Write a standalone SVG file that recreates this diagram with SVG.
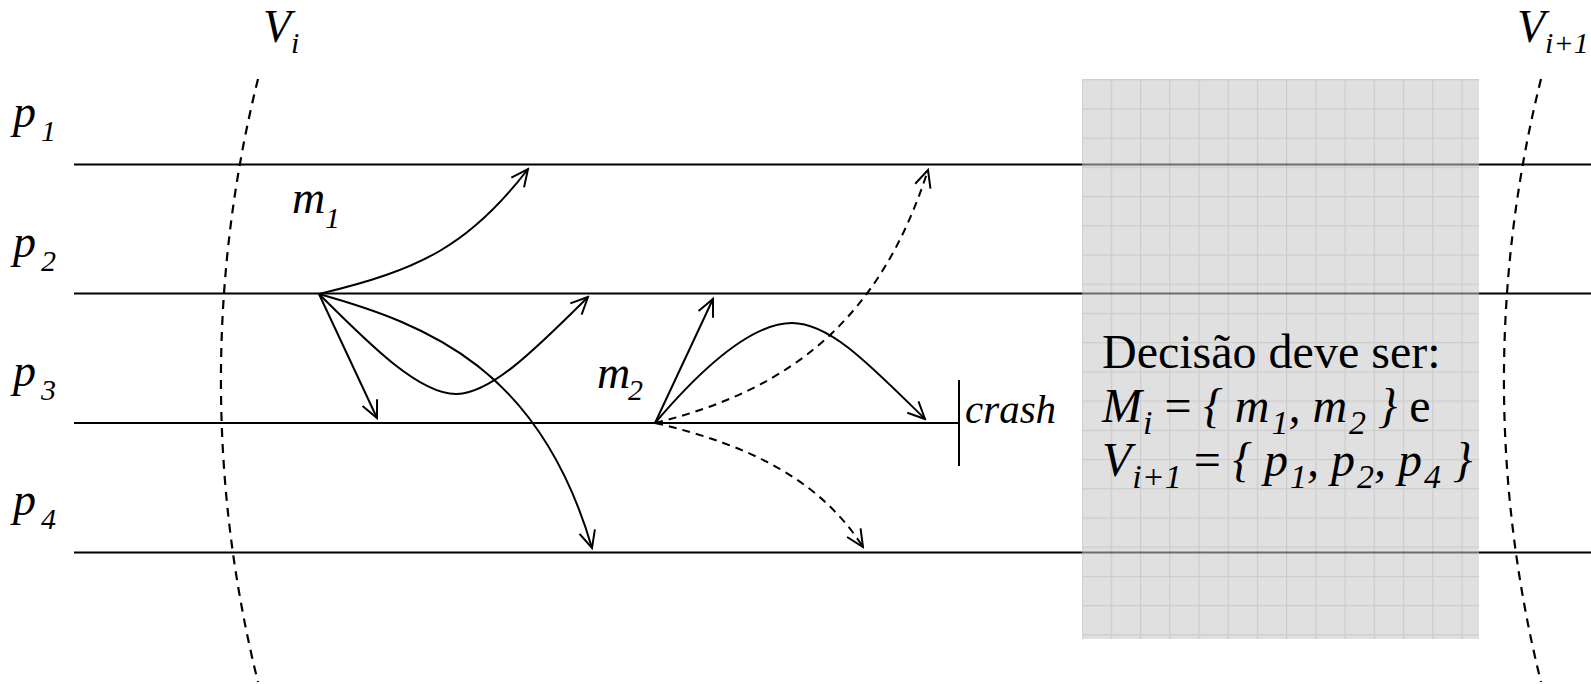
<svg xmlns="http://www.w3.org/2000/svg" width="1591" height="684" viewBox="0 0 1591 684">
<style>
  .t{font-family:'Liberation Serif','Times New Roman',serif;fill:#000;font-size:46px}
  .i{font-style:italic}
  .s{font-size:30px}
  .bt{font-size:48px}
  .bs{font-size:34px}
  .proc{stroke:#000;stroke-width:2;fill:none}
  .view{stroke:#000;stroke-width:2.2;fill:none;stroke-dasharray:9 7}
  .msg{stroke:#000;stroke-width:2;fill:none;marker-end:url(#ah)}
  .dash{stroke-dasharray:8 6}
</style>
<defs>
  <marker id="ah" viewBox="-20 -10 22 20" refX="0" refY="0" markerWidth="22" markerHeight="20" markerUnits="userSpaceOnUse" orient="auto">
    <path d="M-17,-8 L0,0 L-17,8" fill="none" stroke="#000" stroke-width="2" stroke-dasharray="none"/>
  </marker>
  <pattern id="grid" patternUnits="userSpaceOnUse" x="1081.5" y="79.1" width="29.22" height="29.22">
    <path d="M0,0.6 H29.22 M0.6,0 V29.22" stroke="#000" stroke-opacity="0.09" stroke-width="1.2" fill="none"/>
  </pattern>
</defs>

<g id="process-p1">
  <line class="proc" x1="74" y1="164.5" x2="1591" y2="164.5"/>
  <text class="t i" x="13" y="127">p<tspan class="s" x="41" dy="14">1</tspan></text>
</g>
<g id="process-p2">
  <line class="proc" x1="74" y1="293.5" x2="1591" y2="293.5"/>
  <text class="t i" x="13" y="257">p<tspan class="s" x="41" dy="14">2</tspan></text>
</g>
<g id="process-p3">
  <line class="proc" x1="74" y1="423" x2="959" y2="423"/>
  <text class="t i" x="13" y="386">p<tspan class="s" x="41" dy="14">3</tspan></text>
</g>
<g id="process-p4">
  <line class="proc" x1="74" y1="552.5" x2="1591" y2="552.5"/>
  <text class="t i" x="13" y="515">p<tspan class="s" x="41" dy="14">4</tspan></text>
</g>

<g id="view-Vi">
  <path class="view" d="M258,79 A1245,1245 0 0 0 258,682"/>
  <text class="t i" x="263" y="42">V<tspan class="s" dy="11">i</tspan></text>
</g>
<g id="view-Vi1">
  <path class="view" d="M1541,79 A1245,1245 0 0 0 1541,682"/>
  <text class="t i" x="1517" y="42">V<tspan class="s" dy="11">i+1</tspan></text>
</g>

<g id="msg-m1">
  <text class="t i" x="292" y="213">m<tspan class="s" x="325" dy="15">1</tspan></text>
</g>
<g id="msg-m2">
  <text class="t i" x="597" y="388">m<tspan class="s" x="628" dy="12">2</tspan></text>
</g>

<g id="crash">
  <line class="proc" x1="959" y1="380" x2="959" y2="466"/>
  <text class="t i" x="965" y="423" style="font-size:41px">crash</text>
</g>

<g id="connectors">
  <path class="msg" d="M319,294 C420,270 470,245 528,169"/>
  <path class="msg" d="M319,294 L377,418"/>
  <path class="msg" d="M319,294 C370,345 420,395 457,394 C490,393 530,355 588,297"/>
  <path class="msg" d="M319,294 C430,325 540,370 592,548"/>
  <path class="msg" d="M655,423 L713,299"/>
  <path class="msg" d="M655,423 C700,370 750,323 792,323 C830,323 870,365 925,419"/>
  <path class="msg dash" d="M655,423 C790,390 880,320 928,170"/>
  <path class="msg dash" d="M655,423 C750,445 820,480 863,547"/>
</g>

<g id="decision">
  <rect x="1082" y="79" width="397" height="560" fill="#c6c6c6" fill-opacity="0.55"/>
  <rect x="1082" y="79" width="397" height="560" fill="url(#grid)"/>
  <text class="t bt" x="1102" y="368">Decisão deve ser:</text>
  <text class="t bt" x="1102" y="422"><tspan class="i">M</tspan><tspan class="i bs" dx="1" dy="12">i</tspan><tspan dy="-12"> = </tspan><tspan class="i">{ m</tspan><tspan class="i bs" dx="2" dy="12">1</tspan><tspan class="i" dy="-12">, m</tspan><tspan class="i bs" dx="2" dy="12">2</tspan><tspan class="i" dy="-12"> }</tspan> e</text>
  <text class="t bt" x="1102" y="476"><tspan class="i">V</tspan><tspan class="i bs" dx="1" dy="12">i+1</tspan><tspan dy="-12"> = </tspan><tspan class="i">{ p</tspan><tspan class="i bs" dx="2" dy="12">1</tspan><tspan class="i" dy="-12">, p</tspan><tspan class="i bs" dx="2" dy="12">2</tspan><tspan class="i" dy="-12">, p</tspan><tspan class="i bs" dx="2" dy="12">4</tspan><tspan class="i" dy="-12"> }</tspan></text>
</g>
</svg>
